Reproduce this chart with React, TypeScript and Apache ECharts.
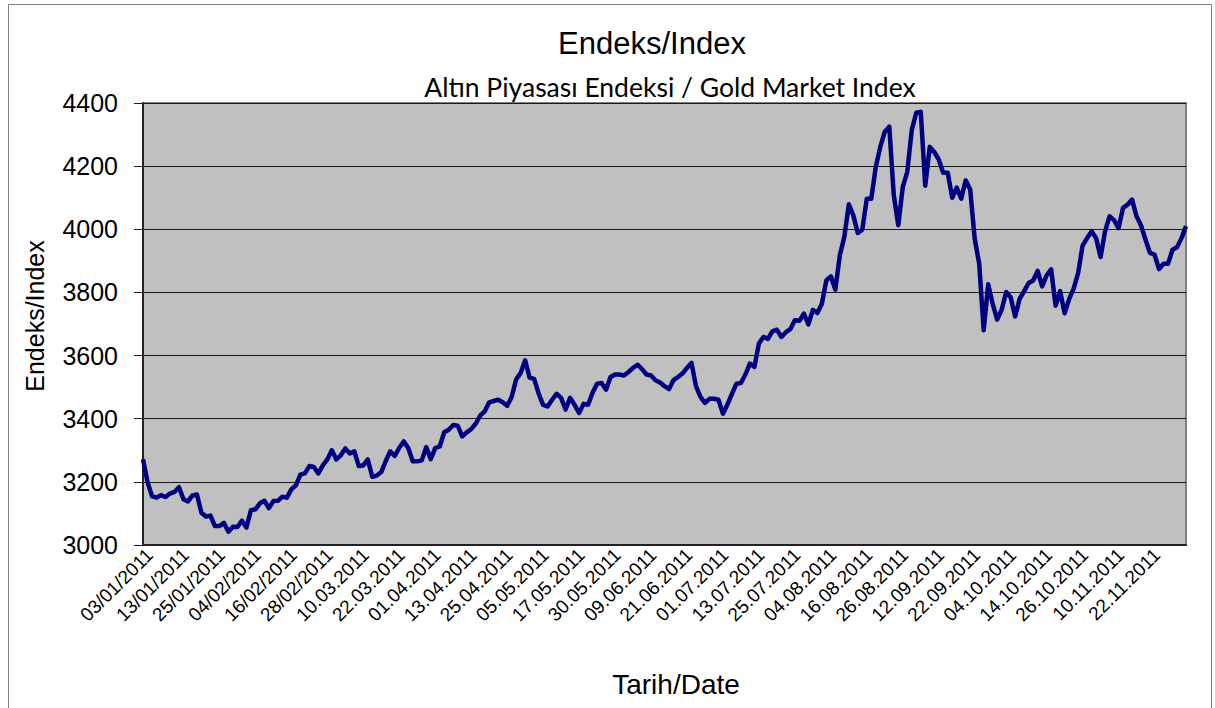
import React, { useEffect, useRef } from "react";
import * as echarts from "echarts";

// Index values, one per trading day from 03/01/2011
const indexValues: number[] = [
  3272, 3200, 3155, 3150, 3158, 3152, 3163, 3168, 3183, 3145,
  3138, 3157, 3160, 3102, 3090, 3093, 3060, 3060, 3070, 3042,
  3058, 3057, 3077, 3055, 3110, 3113, 3132, 3140, 3117, 3139,
  3140, 3153, 3150, 3176, 3189, 3223, 3227, 3250, 3247, 3227,
  3252, 3271, 3300, 3271, 3284, 3306, 3290, 3297, 3250, 3252,
  3271, 3216, 3220, 3231, 3266, 3297, 3282, 3308, 3328, 3307,
  3265, 3265, 3268, 3310, 3272, 3307, 3312, 3357, 3365, 3380,
  3378, 3344, 3357, 3367, 3384, 3410, 3423, 3452, 3456, 3460,
  3452, 3441, 3469, 3524, 3545, 3585, 3530, 3526, 3480, 3444,
  3439, 3460, 3479, 3466, 3429, 3466, 3444, 3418, 3447, 3444,
  3482, 3511, 3513, 3492, 3532, 3540, 3540, 3537, 3548, 3561,
  3571, 3557, 3540, 3537, 3522, 3515, 3503, 3494, 3522, 3532,
  3543, 3561, 3577, 3503, 3469, 3450, 3463, 3463, 3460, 3416,
  3445, 3479, 3511, 3513, 3540, 3575, 3564, 3638, 3659, 3653,
  3677, 3682, 3659, 3674, 3684, 3712, 3710, 3733, 3699, 3745,
  3735, 3764, 3838, 3851, 3809, 3918, 3976, 4079, 4044, 3988,
  3999, 4097, 4097, 4198, 4261, 4309, 4325, 4108, 4013, 4134,
  4182, 4314, 4369, 4372, 4138, 4261, 4245, 4221, 4179, 4179,
  4100, 4132, 4097, 4155, 4126, 3970, 3891, 3680, 3826, 3764,
  3714, 3745, 3801, 3785, 3724, 3780, 3804, 3830, 3838, 3868,
  3819, 3854, 3873, 3758, 3804, 3734, 3779, 3811, 3861, 3948,
  3972, 3994, 3972, 3912, 3994, 4041, 4029, 4004, 4068, 4078,
  4094, 4041, 4012, 3967, 3925, 3920, 3874, 3891, 3891, 3935,
  3943, 3972, 4010,
];

// Borsa holidays on weekdays in 2011 (for the trading-day categories)
const holidays: string[] = [
  "2011-05-19", "2011-08-30", "2011-08-31", "2011-09-01",
  "2011-11-07", "2011-11-08", "2011-11-09",
];

const yTicks = { min: 3000, max: 4400, interval: 200 };
const labelEvery = 8;

const titleText = "Endeks/Index";
const subtitleText = "Altın Piyasası Endeksi / Gold Market Index";
const yAxisTitle = "Endeks/Index";
const xAxisTitle = "Tarih/Date";

function pad(n: number): string {
  return n < 10 ? "0" + n : String(n);
}

function buildCategories(count: number): string[] {
  const out: string[] = [];
  let t = Date.UTC(2011, 0, 3);
  while (out.length < count) {
    const d = new Date(t);
    const wd = d.getUTCDay();
    const iso = `${d.getUTCFullYear()}-${pad(d.getUTCMonth() + 1)}-${pad(d.getUTCDate())}`;
    if (wd !== 0 && wd !== 6 && holidays.indexOf(iso) < 0) {
      const m = d.getUTCMonth() + 1;
      const sep = m <= 2 ? "/" : ".";
      out.push(`${pad(d.getUTCDate())}${sep}${pad(m)}${sep}${d.getUTCFullYear()}`);
    }
    t += 86400000;
  }
  return out;
}

const categories = buildCategories(indexValues.length);

export default function App() {
  const ref = useRef<HTMLDivElement>(null);

  useEffect(() => {
    if (!ref.current) return;
    const chart = echarts.init(ref.current, undefined, { renderer: "svg" });
    const font = "Liberation Sans, Arial, sans-serif";
    chart.setOption({
      animation: false,
      backgroundColor: "#ffffff",
      grid: {
        left: 143,
        top: 103,
        right: 29,
        bottom: 163,
        show: true,
        backgroundColor: "#c0c0c0",
        borderColor: "#808080",
        borderWidth: 2,
      },
      graphic: [
        {
          type: "rect",
          silent: true,
          shape: { x: 8.5, y: 4.5, width: 1203, height: 740 },
          style: { fill: "none", stroke: "#808080", lineWidth: 1 },
        },
        {
          type: "text",
          x: 652,
          y: 43,
          style: {
            text: titleText,
            font: `31px ${font}`,
            fill: "#000",
            textAlign: "center",
            textVerticalAlign: "middle",
          },
        },
        {
          type: "text",
          x: 670,
          y: 87,
          style: {
            text: subtitleText,
            font: `26.5px Lato, sans-serif`,
            fill: "#000",
            textAlign: "center",
            textVerticalAlign: "middle",
          },
        },
        {
          type: "text",
          x: 35,
          y: 316,
          rotation: Math.PI / 2,
          style: {
            text: yAxisTitle,
            font: `25px ${font}`,
            fill: "#000",
            textAlign: "center",
            textVerticalAlign: "middle",
          },
        },
        {
          type: "text",
          x: 676,
          y: 684,
          style: {
            text: xAxisTitle,
            font: `28px ${font}`,
            fill: "#000",
            textAlign: "center",
            textVerticalAlign: "middle",
          },
        },
      ],
      xAxis: {
        type: "category",
        data: categories,
        boundaryGap: false,
        axisLine: { show: true, lineStyle: { color: "#222", width: 2 } },
        axisTick: { show: false },
        splitLine: { show: false },
        axisLabel: {
          interval: (i: number) => i % labelEvery === 0,
          showMaxLabel: false,
          rotate: 45,
          margin: 0,
          verticalAlign: "top",
          color: "#000",
          fontFamily: font,
          fontSize: 19,
        },
      },
      yAxis: {
        type: "value",
        min: yTicks.min,
        max: yTicks.max,
        interval: yTicks.interval,
        axisLine: { show: true, lineStyle: { color: "#222", width: 2 } },
        axisTick: { show: true, inside: false, length: 9, lineStyle: { color: "#222", width: 1 } },
        splitLine: { show: true, lineStyle: { color: "#1a1a1a", width: 1 } },
        axisLabel: {
          margin: 25,
          color: "#000",
          fontFamily: font,
          fontSize: 25,
          formatter: (v: number) => String(v),
        },
      },
      series: [
        {
          type: "line",
          data: indexValues,
          showSymbol: false,
          symbol: "none",
          lineStyle: { color: "#000080", width: 4.5, join: "round" },
          itemStyle: { color: "#000080" },
        },
      ],
    });
    return () => chart.dispose();
  }, []);

  return (
    <div
      ref={ref}
      style={{ position: "fixed", left: 0, top: 0, width: 1215, height: 708 }}
    />
  );
}
